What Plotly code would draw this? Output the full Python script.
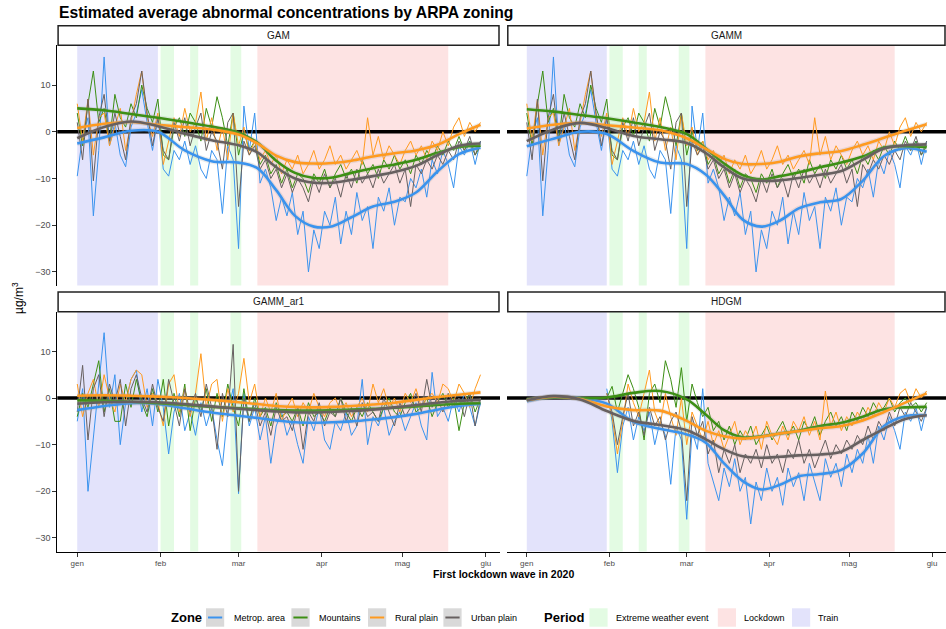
import pandas as pd
import plotly.graph_objects as go

# ---------------- data ----------------
BASE = pd.Timestamp("2020-01-01")
NOISY_DATES = pd.date_range("2020-01-01", "2020-05-30", freq="2D")   # 76 points
HDGM_DATES = pd.date_range("2020-01-31", "2020-05-30", freq="2D")    # 61 points
SMOOTH_DAYS = [0, 10, 20, 30, 40, 50, 60, 67, 74, 81, 88, 95, 102, 110, 118, 126, 134, 142, 150]
SMOOTH_DATES = [BASE + pd.Timedelta(days=d) for d in SMOOTH_DAYS]

MODELS = ["GAM", "GAMM", "GAMM_ar1", "HDGM"]
ZONES = ["Metrop. area", "Mountains", "Rural plain", "Urban plain"]

MONTH_TICKS = ["2020-01-01", "2020-02-01", "2020-03-01", "2020-04-01", "2020-05-01", "2020-06-01"]
MONTH_LABELS = ["gen", "feb", "mar", "apr", "mag", "giu"]
Y_TICKS = [10, 0, -10, -20, -30]

PERIOD_NAMES = ["Extreme weather event", "Lockdown", "Train"]
PERIOD_START = ["2020-02-01", "2020-02-12", "2020-02-27", "2020-03-08", "2020-01-01"]
PERIOD_END = ["2020-02-06", "2020-02-15", "2020-03-02", "2020-05-18", "2020-01-31"]
PERIOD_KIND = ["Extreme weather event", "Extreme weather event", "Extreme weather event", "Lockdown", "Train"]

# daily (every 2 days) abnormal concentrations, GAM & GAMM share the same series
GAM_METROP = [-9.5, -1, 3, -18, -4, 16, -3, 2, -5, -7.5,
              1, 4, 9, 2, -4, 3, -8, -9.5, -4, -6,
              -2, -7, -3, -8, -10, -4, -6, -17.5, -3, -6,
              -25, 5.5, -4, 4, -11, -8, -12, -19, -14, -18,
              -13, -22, -17, -30, -21, -25, -17, -20, -14, -24,
              -17, -22, -13, -19, -16, -25, -14, -17, -12, -20,
              -14, -15, -10, -12, -8, -14, -6, -9, -4, -7,
              -12, -3, -5, -2, -7, -2]
GAM_MOUNT = [4, -3, 6, 13, 2, 5, -2, 8, 3, 1,
             6, 3, 10, 5, 2, 7, -5, -6, 1, 3,
             -1, 4, 2, -2, 5, 1, 7.5, 3, -3, 4,
             -5, 0, -4, -2, -7, -5, -9, -7, -11, -8,
             -12, -9, -10, -13, -9, -11, -8, -12, -9, -7,
             -10, -8, -11, -6, -9, -7, -10, -6, -8, -5,
             -8, -6, -9, -5, -7, -4, -6, -3, -5, -2,
             -4, -1, -4, -2, -5, -3]
GAM_RURAL = [6, -2, 7, -5, 3, 4, -3, 1, 5, -4,
             2, 8, 13, 3, -1, 4, -7, -2, 3, -1,
             5, 0, 2, 8.5, -2, 3, -4, 1, -6, 4,
             -3, 1, -5, -2, -6, -4, -7, -5, -9, -6,
             -8, -5, -9, -7, -4, -8, -6, -3, -7, -5,
             -8, -6, -4, -7, 3, -5, -1, -6, -3, -5,
             -7, -4, -2, -5, -3, -6, -2, -4, 0, -3,
             1, 3, -1, 2, 0, 2]
GAM_URBAN = [2, -6, 7, -10.5, 3, 8, -2, 4, -1, -6,
             3, 6, 13, 4, -3, 3, -4, -6, 2, -2,
             3, -3, 1, 4, -4, 0, -2, -8, 2, 4,
             -16, -2, -5, -3, -8, -6, -10, -8, -12, -9,
             -13, -10, -12, -15, -10, -13, -9, -12, -10, -14,
             -9, -12, -8, -11, -9, -12, -8, -11, -9, -7,
             -11, -8, -16, -7, -9, -6, -8, -5, -7, -4,
             -6, -2, -4, -1, -5, -2]

AR1_METROP = [-5, 2, -20, -8, 3, 14, -2, 5, -10, -1,
              4, 6, -3, 2, -6, 4, -2, -12, -3, 1,
              -7, -3, -8, -1, -6, -2, -9, -14.5, -3, 2,
              -20.5, 1, -6, -2, -9, -4, -14, -6, -3, -8,
              -5, -10, -14, -4, -7, -2, -9, -11, -5, -7,
              -3, -8, -6, 4, -10, -4, -6, -2, -8, -5,
              -3, -7, -4, -1, -6, -9, 5.5, -4, -2, -5,
              0, -3, 1, -2, -6, -1]
AR1_MOUNT = [-4, 1, -2, 3, 8, -3, 2, -5, -5, 3,
             -2, 4, -1, -4, 2, -3, 4, -6, 1, -4,
             3, -7, 0, -3, 2, -5, 1, -4, 3, -2,
             -6, 2, -5, 0, -4, -2, -6, -1, -4, -3,
             -5, -2, -6, -1, -4, -3, -5, -2, -4, 0,
             -3, -5, -2, -4, -1, -3, -5, -2, 0, -3,
             -4, -1, 1, -3, -2, 0, -4, -1, 1, -2,
             0, -7, -1, 1, -3, 0]
AR1_RURAL = [3, -4, 1, 4, -2, 5, 0, -3, 3, -1,
             4, 6, 5, -2, 1, -1, -6, 3, 5, -3,
             2, -4, 1, 9.5, -2, 3, 4, -5, 2, -3,
             1, 8.5, -1, 3, -4, 0, -3, 1, -5, -2,
             0, -4, -1, -3, 1, -2, -4, -1, 0, -3,
             -1, -4, -2, 0, -3, 3, -1, 2, -2, 0,
             -3, 1, -1, 2, -2, 0, 1, -1, 3, 2,
             -1, 3, 1, -2, 2, 5]
AR1_URBAN = [-3, 7, -9, 2, 5, -4, 3, -1, 4, -6,
             2, 5, 0, -3, 3, -2, -5, 4, -1, -6,
             2, -3, 1, -4, 3, -2, -11, 1, -4, 11.5,
             -20, 0, -5, -1, -6, -3, -8, -2, -5, -4,
             -7, -2, -11, -3, -5, -1, -6, -3, -4, 0,
             -5, -2, -6, -1, -4, -3, -5, 0, -3, -6,
             -1, -4, -2, 1, -3, 4, -2, 0, -3, 1,
             -2, 0, -4, 1, -6, 0]

HDGM_METROP = [2, -5, -16, -6, -2, -9, -4, -7, -3, -10,
               -5, -8, -18.5, -6, -9, -26, -7, -11, 2, -14,
               -18, -22, -15, -19, -13, -20, -17, -27, -18, -22,
               -15, -20, -17, -23, -15, -19, -16, -22, -14, -18,
               -22, -13, -17, -14, -19, -12, -16, -11, -14, -8,
               -14, -6, -9, -4, -7, -11, -3, -5, -2, -7,
               -2]
HDGM_MOUNT = [0, 2.5, -3, 1, 5, 2, -2, -9, 1, 3,
              -1, 8, 4, -2, 6.5, -5, 3, -1, -4, -2,
              -7, -5, -9, -6, -10, -7, -9, -6, -10, -8,
              -6, -9, -7, -5, -8, -6, -9, -5, -7, -4,
              -8, -5, -3, -6, -4, -7, -3, -5, -2, -4,
              -1, -3, -2, 0, -3, -1, 0, -2, -1, -3,
              -1]
HDGM_RURAL = [1, -4, -12, -5, 3, -1, -4, 1, 6, -3,
              -6, 1, -4, -8, 0, -10, -3, -6, -9, -5,
              -10, -7, -11, -8, -5, -10, -7, -9, -6, -11,
              -5, -8, -10, -6, -9, -5, -7, -4, -8, -5,
              -9, 1.5, -6, -3, -7, -4, -6, -3, -5, -2,
              -4, -1, -3, 0, -2, 1, 2, -1, 2, 0,
              1.5]
HDGM_URBAN = [1, -3, -10, -4, 1, -6, -3, -8, -2, -6,
              -4, -9, -5, -3, -7, -22, -4, -8, -5, -12,
              -9, -16, -11, -14, -10, -16, -12, -14, -11, -15,
              -10, -14, -12, -16, -11, -13, -9, -14, -11, -15,
              -12, -9, -13, -10, -12, -9, -11, -8, -10, -6,
              -9, -5, -7, -3, -6, -2, -4, -1, -3, -5,
              -2]

# smoothed trends (at SMOOTH_DAYS)
S_GAM_METROP = [-2.5, -1.2, 0.2, 0.0, -4.0, -6.3, -6.6, -7.8, -12.5, -18.0, -20.3, -20.2, -18.3, -16.0, -15.0, -13.0, -8.5, -4.8, -3.4]
S_GAM_MOUNT = [5.0, 4.6, 3.8, 3.0, 2.1, 1.1, -0.2, -2.3, -6.2, -8.8, -9.9, -9.8, -8.8, -7.8, -7.0, -6.0, -4.5, -3.3, -3.0]
S_GAM_RURAL = [0.8, 1.7, 2.1, 1.5, 1.0, 0.5, -0.6, -2.5, -5.1, -6.5, -6.8, -6.7, -6.2, -5.3, -4.6, -4.0, -2.8, -0.5, 1.5]
S_GAM_URBAN = [-1.4, 1.0, 2.2, 1.2, -0.4, -1.8, -2.9, -4.4, -7.6, -10.0, -10.9, -10.9, -10.3, -9.5, -8.6, -7.3, -5.0, -3.0, -2.5]

S_GAMM_METROP = [-3.1, -1.5, 0.0, -0.5, -4.1, -6.6, -6.9, -9.1, -13.6, -18.8, -20.3, -19.0, -16.4, -15.1, -14.4, -10.5, -5.2, -3.5, -4.3]
S_GAMM_MOUNT = [4.8, 4.3, 3.6, 2.9, 2.0, 1.0, -0.5, -3.5, -6.8, -9.3, -10.2, -9.5, -8.7, -7.6, -6.6, -5.3, -3.4, -3.1, -3.3]
S_GAMM_RURAL = [0.7, 1.5, 1.9, 1.4, 0.9, 0.3, -1.4, -3.6, -5.8, -6.9, -6.9, -6.4, -5.3, -4.6, -4.1, -2.8, -1.3, 0.2, 1.6]
S_GAMM_URBAN = [-2.0, 0.5, 1.9, 0.8, -0.9, -1.6, -2.4, -4.5, -7.6, -10.0, -10.5, -10.4, -9.9, -9.2, -8.4, -6.0, -3.6, -2.9, -2.7]

S_AR1_METROP = [-2.6, -1.7, -1.1, -1.3, -2.2, -3.1, -3.8, -4.3, -4.8, -5.2, -5.3, -5.2, -5.0, -4.6, -4.1, -3.4, -2.5, -1.7, -1.3]
S_AR1_MOUNT = [-0.5, -0.6, -0.8, -1.1, -1.5, -1.9, -2.2, -2.4, -2.6, -2.7, -2.7, -2.6, -2.5, -2.3, -2.1, -1.8, -1.5, -1.2, -1.1]
S_AR1_RURAL = [0.5, 0.6, 0.5, 0.3, 0.0, -0.4, -0.9, -1.3, -1.7, -1.9, -2.0, -1.9, -1.7, -1.4, -1.0, -0.4, 0.2, 0.7, 1.2]
S_AR1_URBAN = [-1.2, -0.9, -0.8, -0.9, -1.3, -1.8, -2.3, -2.6, -2.9, -3.1, -3.1, -3.0, -2.8, -2.5, -2.0, -1.5, -1.0, -0.6, -0.4]

S_HDGM_METROP = [-0.7, 0.3, 0.0, -1.2, -5.1, -6.6, -7.8, -9.5, -14.0, -17.8, -19.6, -18.6, -16.8, -16.3, -15.4, -11.9, -6.0, -3.9, -3.7]
S_HDGM_MOUNT = [-0.3, 0.1, 0.0, 0.1, 1.1, 1.5, -0.3, -3.5, -6.9, -8.4, -8.2, -7.6, -7.0, -6.0, -5.3, -4.0, -2.4, -2.0, -1.9]
S_HDGM_RURAL = [-0.5, 0.3, -0.2, -1.8, -2.6, -2.7, -4.9, -7.0, -8.2, -8.7, -8.3, -7.6, -7.1, -6.5, -6.0, -4.8, -3.0, -1.0, 1.0]
S_HDGM_URBAN = [-0.5, 0.4, -0.3, -2.8, -4.9, -5.8, -6.9, -8.8, -11.0, -12.5, -12.8, -12.6, -12.3, -12.1, -11.5, -9.0, -6.6, -4.5, -3.7]

NOISY = {
    "GAM": (NOISY_DATES, [GAM_METROP, GAM_MOUNT, GAM_RURAL, GAM_URBAN]),
    "GAMM": (NOISY_DATES, [GAM_METROP, GAM_MOUNT, GAM_RURAL, GAM_URBAN]),
    "GAMM_ar1": (NOISY_DATES, [AR1_METROP, AR1_MOUNT, AR1_RURAL, AR1_URBAN]),
    "HDGM": (HDGM_DATES, [HDGM_METROP, HDGM_MOUNT, HDGM_RURAL, HDGM_URBAN]),
}
SMOOTH = {
    "GAM": [S_GAM_METROP, S_GAM_MOUNT, S_GAM_RURAL, S_GAM_URBAN],
    "GAMM": [S_GAMM_METROP, S_GAMM_MOUNT, S_GAMM_RURAL, S_GAMM_URBAN],
    "GAMM_ar1": [S_AR1_METROP, S_AR1_MOUNT, S_AR1_RURAL, S_AR1_URBAN],
    "HDGM": [S_HDGM_METROP, S_HDGM_MOUNT, S_HDGM_RURAL, S_HDGM_URBAN],
}

# ---------------- style ----------------
W, H = 946, 629
ZONE_COLORS = ["#3A93EE", "#3C8F14", "#FF9A1F", "#676060"]
PERIOD_COLORS = {"Extreme weather event": "#E3FBE3", "Lockdown": "#FDE3E3", "Train": "#E3E3FB"}
FONT = "Liberation Sans, Arial, sans-serif"


def px(x):
    return x / W


def py(y):
    return 1 - y / H


X_DOM = {"GAM": (57.3, 500.0), "GAMM": (507.0, 946.0), "GAMM_ar1": (57.3, 500.0), "HDGM": (507.0, 946.0)}
Y_DOM = {"GAM": (45.3, 285.5), "GAMM": (45.3, 285.5), "GAMM_ar1": (311.7, 551.5), "HDGM": (311.7, 551.5)}
STRIP = {"GAM": (25.7, 45.3), "GAMM": (25.7, 45.3), "GAMM_ar1": (292.0, 311.7), "HDGM": (292.0, 311.7)}
AX = {"GAM": "", "GAMM": "2", "GAMM_ar1": "3", "HDGM": "4"}
X_RANGE = ["2019-12-24 14:00", "2020-06-06 06:00"]
Y_RANGE = [-32.9, 18.5]

fig = go.Figure()
shapes = []
annotations = []
layout = dict()

for m in MODELS:
    a = AX[m]
    xr, yr = "x" + a, "y" + a
    bottom = m in ("GAMM_ar1", "HDGM")
    left = m in ("GAM", "GAMM_ar1")
    x0, x1 = X_DOM[m]
    ytop, ybot = Y_DOM[m]
    layout["xaxis" + a] = dict(
        domain=[px(x0), px(x1)], anchor=yr, type="date", range=X_RANGE,
        tickvals=MONTH_TICKS, ticktext=MONTH_LABELS, showgrid=False, zeroline=False,
        showline=bottom, linecolor="#000000", linewidth=1.1,
        ticks="outside" if bottom else "", ticklen=4, tickcolor="#333333", tickwidth=1,
        showticklabels=bottom, tickfont=dict(family=FONT, size=8, color="#4D4D4D"),
    )
    layout["yaxis" + a] = dict(
        domain=[py(ybot), py(ytop)], anchor=xr, range=Y_RANGE,
        tickvals=Y_TICKS, showgrid=False, zeroline=False,
        showline=left, linecolor="#000000", linewidth=1.1,
        ticks="outside" if left else "", ticklen=4, tickcolor="#333333", tickwidth=1,
        showticklabels=left, tickfont=dict(family=FONT, size=9, color="#4D4D4D"),
    )
    # period shading
    for s, e, k in zip(PERIOD_START, PERIOD_END, PERIOD_KIND):
        shapes.append(dict(type="rect", xref=xr, yref=yr + " domain", x0=s, x1=e, y0=0, y1=1,
                           fillcolor=PERIOD_COLORS[k], line=dict(width=0), layer="below"))
    # zero line
    shapes.append(dict(type="line", xref=xr + " domain", yref=yr, x0=0, x1=1, y0=0, y1=0,
                       line=dict(color="#000000", width=3.6), layer="below"))
    # strip
    s0, s1 = STRIP[m]
    shapes.append(dict(type="rect", xref="paper", yref="paper", x0=px(x0 + 0.8), x1=px(x1 - 1.0),
                       y0=py(s1), y1=py(s0), fillcolor="#FFFFFF",
                       line=dict(color="#222222", width=1.5)))
    annotations.append(dict(xref="paper", yref="paper", x=px((x0 + x1) / 2), y=py((s0 + s1) / 2),
                            text=m, showarrow=False, xanchor="center", yanchor="middle",
                            font=dict(family=FONT, size=10, color="#1A1A1A")))

    dates, series = NOISY[m]
    for z, vals, col in zip(ZONES, series, ZONE_COLORS):
        fig.add_trace(go.Scatter(x=dates, y=vals, mode="lines", xaxis=xr, yaxis=yr,
                                 line=dict(color=col, width=1.0), showlegend=False, hoverinfo="skip"))
    for z, vals, col in zip(ZONES, SMOOTH[m], ZONE_COLORS):
        fig.add_trace(go.Scatter(x=SMOOTH_DATES, y=vals, mode="lines", xaxis=xr, yaxis=yr,
                                 line=dict(color="rgba(160,160,160,0.22)", width=5, shape="spline"),
                                 showlegend=False, hoverinfo="skip"))
        fig.add_trace(go.Scatter(x=SMOOTH_DATES, y=vals, mode="lines", xaxis=xr, yaxis=yr,
                                 line=dict(color=col, width=2.6, shape="spline"),
                                 showlegend=False, hoverinfo="skip"))

# titles
annotations.append(dict(xref="paper", yref="paper", x=px(57), y=py(12.5), xanchor="left", yanchor="middle",
                        text="<b>Estimated average abnormal concentrations by ARPA zoning</b>", showarrow=False,
                        font=dict(family=FONT, size=15.7, color="#000000")))
annotations.append(dict(xref="paper", yref="paper", x=px(18), y=py(298), xanchor="center", yanchor="middle",
                        text="µg/m<sup>3</sup>", textangle=-90, showarrow=False,
                        font=dict(family=FONT, size=12, color="#000000")))
annotations.append(dict(xref="paper", yref="paper", x=px(503.5), y=py(574), xanchor="center", yanchor="middle",
                        text="<b>First lockdown wave in 2020</b>", showarrow=False,
                        font=dict(family=FONT, size=10.5, color="#000000")))

# legend (drawn manually)
KEY_Y0, KEY_Y1 = 608.3, 626.7
KEY_YC = (KEY_Y0 + KEY_Y1) / 2
annotations.append(dict(xref="paper", yref="paper", x=px(169), y=py(KEY_YC), xanchor="left", yanchor="middle",
                        text="<b>Zone</b>", showarrow=False, font=dict(family=FONT, size=13, color="#000000")))
zone_key_x = [206.0, 291.4, 368.0, 443.4]
zone_text_x = [232.0, 316.7, 393.0, 469.4]
for z, col, kx, tx in zip(ZONES, ZONE_COLORS, zone_key_x, zone_text_x):
    shapes.append(dict(type="rect", xref="paper", yref="paper", x0=px(kx), x1=px(kx + 18.2),
                       y0=py(KEY_Y1), y1=py(KEY_Y0), fillcolor="#D9D9D9", line=dict(width=0)))
    shapes.append(dict(type="line", xref="paper", yref="paper", x0=px(kx + 2), x1=px(kx + 16.2),
                       y0=py(KEY_YC), y1=py(KEY_YC), line=dict(color=col, width=2)))
    annotations.append(dict(xref="paper", yref="paper", x=px(tx), y=py(KEY_YC), xanchor="left", yanchor="middle",
                            text=z, showarrow=False, font=dict(family=FONT, size=9, color="#000000")))
annotations.append(dict(xref="paper", yref="paper", x=px(541.5), y=py(KEY_YC), xanchor="left", yanchor="middle",
                        text="<b>Period</b>", showarrow=False, font=dict(family=FONT, size=13, color="#000000")))
period_key_x = [589.4, 717.8, 792.0]
period_text_x = [613.6, 742.0, 816.0]
for p, kx, tx in zip(PERIOD_NAMES, period_key_x, period_text_x):
    shapes.append(dict(type="rect", xref="paper", yref="paper", x0=px(kx), x1=px(kx + 18.2),
                       y0=py(KEY_Y1), y1=py(KEY_Y0), fillcolor=PERIOD_COLORS[p], line=dict(width=0)))
    annotations.append(dict(xref="paper", yref="paper", x=px(tx), y=py(KEY_YC), xanchor="left", yanchor="middle",
                            text=p, showarrow=False, font=dict(family=FONT, size=9, color="#000000")))

fig.update_layout(
    width=W, height=H, margin=dict(l=0, r=0, t=0, b=0),
    paper_bgcolor="#FFFFFF", plot_bgcolor="rgba(0,0,0,0)",
    showlegend=False, shapes=shapes, annotations=annotations,
    font=dict(family=FONT), **layout,
)

fig.write_html("out.html")
